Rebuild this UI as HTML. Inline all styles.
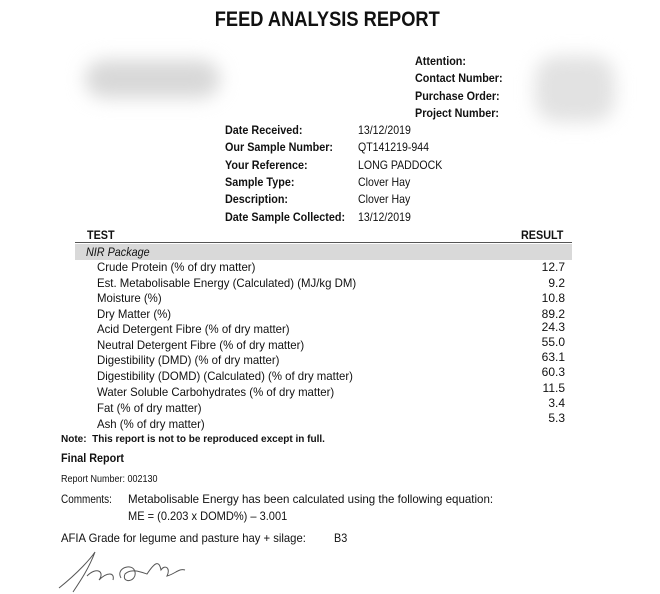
<!DOCTYPE html>
<html><head><meta charset="utf-8"><style>
body{margin:0;width:660px;height:594px;background:#fff;position:relative;overflow:hidden;font-family:"Liberation Sans",sans-serif;color:#111}
.a{position:absolute;white-space:nowrap;line-height:1;transform-origin:left top}
.b{font-weight:bold}
.s{font-size:12px}
.lb{transform:scaleX(0.9)}
.r{font-size:12px;transform:scaleX(0.95)}
.v{position:absolute;right:95px;font-size:12px;line-height:1}
.blur{position:absolute;background:#d8d8d8;filter:blur(9px);border-radius:22px}
</style></head><body>
<div class="a b" style="left:3px;width:648px;text-align:center;top:9px;font-size:21px;transform:scaleX(0.87);transform-origin:326px 0">FEED ANALYSIS REPORT</div>
<div class="blur" style="left:85px;top:60px;width:135px;height:38px"></div>
<div class="blur" style="left:535px;top:56px;width:80px;height:66px;background:#e2e2e2"></div>
<div class="a b s lb" style="left:415px;top:55px">Attention:</div>
<div class="a b s lb" style="left:415px;top:72px">Contact Number:</div>
<div class="a b s lb" style="left:415px;top:90px">Purchase Order:</div>
<div class="a b s lb" style="left:415px;top:107px">Project Number:</div>
<div class="a b s lb" style="left:225px;top:124px">Date Received:</div>
<div class="a b s lb" style="left:225px;top:141px">Our Sample Number:</div>
<div class="a b s lb" style="left:225px;top:159px">Your Reference:</div>
<div class="a b s lb" style="left:225px;top:176px">Sample Type:</div>
<div class="a b s lb" style="left:225px;top:193px">Description:</div>
<div class="a b s lb" style="left:225px;top:211px">Date Sample Collected:</div>
<div class="a s" style="left:358px;top:124px;transform:scaleX(0.88)">13/12/2019</div>
<div class="a s" style="left:358px;top:141px;transform:scaleX(0.88)">QT141219-944</div>
<div class="a s" style="left:358px;top:159px;transform:scaleX(0.88)">LONG PADDOCK</div>
<div class="a s" style="left:358px;top:176px;transform:scaleX(0.88)">Clover Hay</div>
<div class="a s" style="left:358px;top:193px;transform:scaleX(0.88)">Clover Hay</div>
<div class="a s" style="left:358px;top:211px;transform:scaleX(0.88)">13/12/2019</div>
<div class="a b s lb" style="left:87px;top:229px">TEST</div>
<div class="a b s lb" style="left:521px;top:229px">RESULT</div>
<div style="position:absolute;left:75px;top:242px;width:497px;height:1px;background:#555"></div>
<div style="position:absolute;left:75px;top:244px;width:497px;height:16px;background:#d9d9d9"></div>
<div class="a s lb" style="left:86px;top:246px;font-style:italic">NIR Package</div>
<div class="a r" style="left:97px;top:261px">Crude Protein (% of dry matter)</div><div class="v" style="top:261px">12.7</div>
<div class="a r" style="left:97px;top:277px">Est. Metabolisable Energy (Calculated) (MJ/kg DM)</div><div class="v" style="top:277px">9.2</div>
<div class="a r" style="left:97px;top:292px">Moisture (%)</div><div class="v" style="top:292px">10.8</div>
<div class="a r" style="left:97px;top:308px">Dry Matter (%)</div><div class="v" style="top:308px">89.2</div>
<div class="a r" style="left:97px;top:323px">Acid Detergent Fibre (% of dry matter)</div><div class="v" style="top:321px">24.3</div>
<div class="a r" style="left:97px;top:339px">Neutral Detergent Fibre (% of dry matter)</div><div class="v" style="top:336px">55.0</div>
<div class="a r" style="left:97px;top:354px">Digestibility (DMD) (% of dry matter)</div><div class="v" style="top:351px">63.1</div>
<div class="a r" style="left:97px;top:370px">Digestibility (DOMD) (Calculated) (% of dry matter)</div><div class="v" style="top:366px">60.3</div>
<div class="a r" style="left:97px;top:386px">Water Soluble Carbohydrates (% of dry matter)</div><div class="v" style="top:382px">11.5</div>
<div class="a r" style="left:97px;top:402px">Fat (% of dry matter)</div><div class="v" style="top:397px">3.4</div>
<div class="a r" style="left:97px;top:418px">Ash (% of dry matter)</div><div class="v" style="top:412px">5.3</div>
<div class="a b" style="left:61px;top:435px;font-size:10px">Note:&nbsp; This report is not to be reproduced except in full.</div>
<div class="a b lb" style="left:61px;top:452px;font-size:12px">Final Report</div>
<div class="a" style="left:61px;top:475px;font-size:10px;transform:scaleX(0.9)">Report Number: 002130</div>
<div class="a s" style="left:61px;top:493px;transform:scaleX(0.83)">Comments:</div>
<div class="a s" style="left:128px;top:493px;transform:scaleX(0.96)">Metabolisable Energy has been calculated using the following equation:</div>
<div class="a s" style="left:128px;top:510px;transform:scaleX(0.92)">ME = (0.203 x DOMD%) – 3.001</div>
<div class="a s" style="left:61px;top:532px;transform:scaleX(0.94)">AFIA Grade for legume and pasture hay + silage:</div>
<div class="a s lb" style="left:334px;top:532px">B3</div>
<svg style="position:absolute;left:55px;top:550px" width="140" height="44"><path d="M4 38 C24 22 36 8 40 2 C34 18 26 30 18 42 M32 26 C42 16 50 22 44 30 C52 22 60 22 58 30 M66 28 C60 18 78 12 80 22 C82 32 66 34 70 24 C76 18 86 22 92 24 C100 12 104 10 106 20 C110 14 116 18 112 26 C120 24 124 18 130 20" fill="none" stroke="#555" stroke-width="1"/></svg>
</body></html>
